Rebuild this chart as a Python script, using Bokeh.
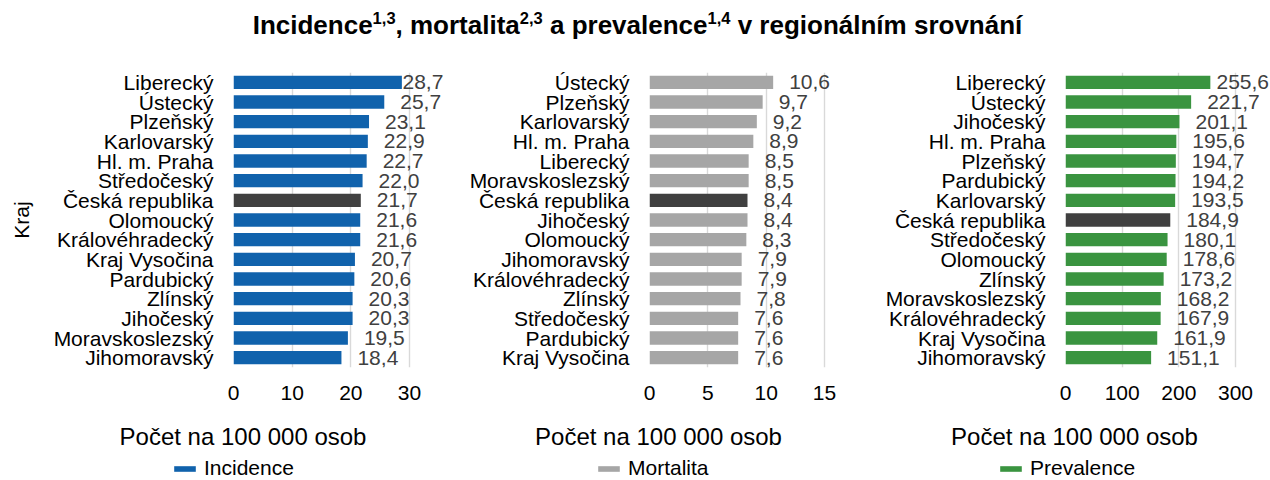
import numpy as np
from bokeh.plotting import figure
from bokeh.models import (Range1d, FactorRange, ColumnDataSource, Legend, LegendItem,
                          LabelSet, FixedTicker)
from bokeh.layouts import column, row
from bokeh.embed import file_html
from bokeh.resources import INLINE
from bokeh.core.properties import value

# ---------------- data ----------------
inc_regions = ["Liberecký", "Ústecký", "Plzeňský", "Karlovarský", "Hl. m. Praha", "Středočeský",
               "Česká republika", "Olomoucký", "Královéhradecký", "Kraj Vysočina", "Pardubický",
               "Zlínský", "Jihočeský", "Moravskoslezský", "Jihomoravský"]
inc_values = [28.7, 25.7, 23.1, 22.9, 22.7, 22.0, 21.7, 21.6, 21.6, 20.7, 20.6, 20.3, 20.3, 19.5, 18.4]

mort_regions = ["Ústecký", "Plzeňský", "Karlovarský", "Hl. m. Praha", "Liberecký", "Moravskoslezský",
                "Česká republika", "Jihočeský", "Olomoucký", "Jihomoravský", "Královéhradecký",
                "Zlínský", "Středočeský", "Pardubický", "Kraj Vysočina"]
mort_values = [10.6, 9.7, 9.2, 8.9, 8.5, 8.5, 8.4, 8.4, 8.3, 7.9, 7.9, 7.8, 7.6, 7.6, 7.6]

prev_regions = ["Liberecký", "Ústecký", "Jihočeský", "Hl. m. Praha", "Plzeňský", "Pardubický",
                "Karlovarský", "Česká republika", "Středočeský", "Olomoucký", "Zlínský",
                "Moravskoslezský", "Královéhradecký", "Kraj Vysočina", "Jihomoravský"]
prev_values = [255.6, 221.7, 201.1, 195.6, 194.7, 194.2, 193.5, 184.9, 180.1, 178.6, 173.2,
               168.2, 167.9, 161.9, 151.1]

inc_ticks = [0, 10, 20, 30]
mort_ticks = [0, 5, 10, 15]
prev_ticks = [0, 100, 200, 300]

series_names = ["Incidence", "Mortalita", "Prevalence"]
x_title = "Počet na 100 000 osob"
y_title = "Kraj"
highlight = "Česká republika"

title_parts = [("Incidence", False), ("1,3", True), (", mortalita", False), ("2,3", True),
               (" a prevalence", False), ("1,4", True), (" v regionálním srovnání", False)]

# ---------------- style ----------------
FONT = "Liberation Sans"
DARK = "#404040"
GRID = "#D9D9D9"
COLORS = ["#1062AC", "#A6A6A6", "#3A9440"]
TOTAL_W = 1270
TITLE_H = 44
TOP = 28
FRAME_H = 295
AXIS_H = 42
BOTTOM_H = 480 - TITLE_H - TOP - FRAME_H - AXIS_H


def panel(regions, vals, ticks, color, left, right, scale_w, frame_w, limit, y_label):
    # scale_w: pixels spanned up to the last tick; the frame extends further for value labels
    xmax = ticks[-1]
    p = figure(y_range=FactorRange(factors=list(reversed(regions))),
               x_range=Range1d(0, xmax * frame_w / scale_w),
               frame_width=frame_w, frame_height=FRAME_H,
               min_border_left=left, min_border_right=right,
               min_border_top=TOP, min_border_bottom=AXIS_H,
               output_backend="svg", toolbar_location=None)
    vals = np.array(vals, dtype=float)
    px = vals * scale_w / xmax
    offs = np.minimum(16.0, limit - px)
    colors = [DARK if r == highlight else color for r in regions]
    labels = [f"{v:.1f}".replace(".", ",") for v in vals]
    src = ColumnDataSource(dict(y=regions, x=vals, color=colors, label=labels, off=offs))
    p.hbar(y="y", right="x", left=0, height=0.68, fill_color="color", line_color=None, source=src)
    p.add_layout(LabelSet(x="x", y="y", text="label", x_offset="off", source=src,
                          text_font=value(FONT), text_font_size="21px", text_color=DARK,
                          text_baseline="middle", text_align="left"))

    p.outline_line_color = None
    p.ygrid.grid_line_color = None
    p.xgrid.grid_line_color = GRID
    p.xgrid.grid_line_width = 1.4
    p.xaxis.ticker = FixedTicker(ticks=ticks)

    for ax in (p.xaxis[0], p.yaxis[0]):
        ax.axis_line_color = None
        ax.major_tick_line_color = None
        ax.minor_tick_line_color = None
        ax.major_tick_out = 0
        ax.major_tick_in = 0
        ax.major_label_text_font = FONT
        ax.major_label_text_font_size = "21px"
        ax.major_label_text_color = "black"
    p.xaxis.major_label_standoff = 18
    p.yaxis.major_label_standoff = 20
    if y_label:
        p.yaxis.axis_label = y_label
        p.yaxis.axis_label_text_font = FONT
        p.yaxis.axis_label_text_font_size = "21px"
        p.yaxis.axis_label_text_font_style = "normal"
        p.yaxis.axis_label_text_color = "black"
        p.yaxis.axis_label_standoff = 18
    return p, src


p1, s1 = panel(inc_regions, inc_values, inc_ticks, COLORS[0], 233, 0, 176, 211, 169.0, y_title)
p2, s2 = panel(mort_regions, mort_values, mort_ticks, COLORS[1], 205, 16, 175, 195, 999.0, None)
p3, s3 = panel(prev_regions, prev_values, prev_ticks, COLORS[2], 205, 0, 170, 205, 151.0, None)

# ---------------- title (with superscripts) ----------------
BOLD_W = {" ": 278, ",": 278, "I": 278, "a": 556, "c": 556, "d": 611, "e": 556, "g": 611,
          "i": 278, "l": 278, "m": 889, "n": 611, "o": 611, "p": 611, "r": 389, "s": 556,
          "t": 333, "v": 556, "á": 556, "í": 278, "1": 556, "2": 556, "3": 556, "4": 556}
MAIN_FS = 26.0
SUP_FS = 16.5


def tw(s, fs):
    return sum(BOLD_W.get(ch, 556) for ch in s) * fs / 1000.0


total = sum(tw(s, SUP_FS if sup else MAIN_FS) for s, sup in title_parts)
xs = 637 - total / 2
main_x, main_t, sup_x, sup_t = [], [], [], []
for s, sup in title_parts:
    fs = SUP_FS if sup else MAIN_FS
    stripped = s.lstrip(" ")
    lead = tw(s[:len(s) - len(stripped)], fs)
    if sup:
        sup_x.append(xs + lead); sup_t.append(stripped)
    else:
        main_x.append(xs + lead); main_t.append(stripped)
    xs += tw(s, fs)

pt = figure(x_range=Range1d(0, TOTAL_W), y_range=Range1d(TITLE_H, 0),
            frame_width=TOTAL_W, frame_height=TITLE_H, min_border=0,
            output_backend="svg", toolbar_location=None)
pt.axis.visible = False
pt.grid.visible = False
pt.outline_line_color = None
pt.text(x=main_x, y=[24.5] * len(main_x), text=main_t, text_font=value(FONT),
        text_font_size=f"{MAIN_FS}px", text_font_style="bold", text_color="black",
        text_baseline="alphabetic", text_align="left")
pt.text(x=sup_x, y=[17.0] * len(sup_x), text=sup_t, text_font=value(FONT),
        text_font_size=f"{SUP_FS}px", text_font_style="bold", text_color="black",
        text_baseline="alphabetic", text_align="left")

# ---------------- bottom strip: axis titles + legends ----------------
pb = figure(x_range=Range1d(0, TOTAL_W), y_range=Range1d(BOTTOM_H, 0),
            frame_width=TOTAL_W, frame_height=BOTTOM_H, min_border=0,
            output_backend="svg", toolbar_location=None)
pb.axis.visible = False
pb.grid.visible = False
pb.outline_line_color = None
title_cx = [242.5, 658, 1074]
pb.text(x=title_cx, y=[27] * 3, text=[x_title] * 3, text_font=value(FONT),
        text_font_size="24px", text_color="black", text_baseline="middle", text_align="center")

legend_x = [171, 595, 997]
for name, col, lx, src in zip(series_names, COLORS, legend_x, (s1, s2, s3)):
    # hidden proxy renderer of the series, only used to draw its legend swatch
    proxy = pb.hbar(y="x", right="x", left=0, height=0.68, fill_color=col, line_color=None,
                    source=ColumnDataSource(dict(x=list(src.data["x"]))), visible=False)
    leg = Legend(items=[LegendItem(label=name, renderers=[proxy], index=0)],
                 location=(lx, 0), orientation="horizontal",
                 label_text_font=FONT, label_text_font_size="21px", label_text_color="black",
                 glyph_width=27, glyph_height=7, label_standoff=6,
                 padding=0, margin=0, spacing=0, inactive_fill_alpha=0,
                 border_line_color=None, background_fill_alpha=0)
    pb.add_layout(leg, "center")

layout = column(pt, row(p1, p2, p3, spacing=0), pb, spacing=0)
open("out.html", "w").write(file_html(layout, INLINE))
